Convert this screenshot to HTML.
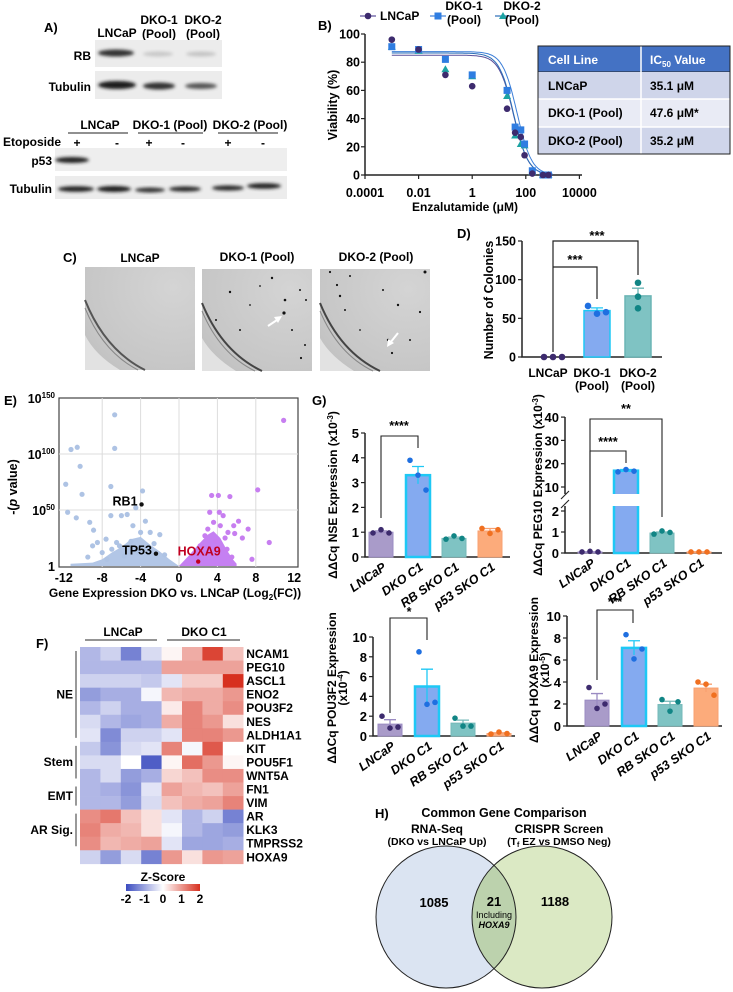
<!DOCTYPE html>
<html><head><meta charset="utf-8">
<style>
html,body{margin:0;padding:0;background:#fff;}
svg{display:block;font-family:"Liberation Sans Narrow","Liberation Sans",sans-serif;font-weight:bold;}
</style></head>
<body>
<svg id="fig" width="733" height="992" viewBox="0 0 733 992" xmlns="http://www.w3.org/2000/svg">
<defs>
<filter id="blur1" x="-20%" y="-50%" width="140%" height="200%"><feGaussianBlur stdDeviation="1.6"/></filter>
<linearGradient id="zgrad" x1="0" x2="1" y1="0" y2="0">
<stop offset="0" stop-color="#3b4cc0"/><stop offset="0.5" stop-color="#ffffff"/><stop offset="1" stop-color="#d7301f"/></linearGradient>
<radialGradient id="dish" cx="0.8" cy="0.2" r="1.1"><stop offset="0" stop-color="#d4d4d4"/><stop offset="0.75" stop-color="#c6c6c6"/><stop offset="1" stop-color="#bdbdbd"/></radialGradient>
<clipPath id="vennL"><ellipse cx="446" cy="917" rx="70" ry="71"/></clipPath>
</defs>

<!-- Panel A -->
<g>
<text x="44" y="32" font-size="13">A)</text>
<text x="117" y="37" font-size="12" text-anchor="middle">LNCaP</text>
<text x="159" y="24" font-size="12" text-anchor="middle">DKO-1</text>
<text x="159" y="38" font-size="12" text-anchor="middle">(Pool)</text>
<text x="203" y="24" font-size="12" text-anchor="middle">DKO-2</text>
<text x="203" y="38" font-size="12" text-anchor="middle">(Pool)</text>
<text x="91" y="60" font-size="12" text-anchor="end">RB</text>
<rect x="95" y="40" width="127" height="27" fill="#ececec"/>
<ellipse cx="116" cy="53" rx="18" ry="3.5" fill="#333" filter="url(#blur1)"/>
<ellipse cx="158" cy="54" rx="15" ry="2.5" fill="#c8c8c8" filter="url(#blur1)"/>
<ellipse cx="201" cy="54" rx="15" ry="2.5" fill="#c4c4c4" filter="url(#blur1)"/>
<text x="91" y="91" font-size="12" text-anchor="end">Tubulin</text>
<rect x="95" y="71" width="127" height="28" fill="#ececec"/>
<ellipse cx="117" cy="85" rx="19" ry="4" fill="#1a1a1a" filter="url(#blur1)"/>
<ellipse cx="159" cy="86" rx="16" ry="3.5" fill="#333" filter="url(#blur1)"/>
<ellipse cx="201" cy="86" rx="16" ry="3" fill="#555" filter="url(#blur1)"/>

<text x="100" y="129" font-size="12" text-anchor="middle">LNCaP</text>
<text x="170" y="129" font-size="12" text-anchor="middle">DKO-1 (Pool)</text>
<text x="250" y="129" font-size="12" text-anchor="middle">DKO-2 (Pool)</text>
<line x1="68" y1="133" x2="128" y2="133" stroke="#222" stroke-width="1"/>
<line x1="138" y1="133" x2="203" y2="133" stroke="#222" stroke-width="1"/>
<line x1="218" y1="133" x2="278" y2="133" stroke="#222" stroke-width="1"/>
<text x="3" y="146" font-size="12">Etoposide</text>
<g font-size="12" text-anchor="middle">
<text x="77" y="147">+</text>
<text x="117" y="147">-</text>
<text x="149" y="147">+</text>
<text x="183" y="147">-</text>
<text x="228" y="147">+</text>
<text x="263" y="147">-</text>
</g>
<text x="52" y="165" font-size="12" text-anchor="end">p53</text>
<rect x="55" y="148" width="232" height="23" fill="#eeeeee"/>
<ellipse cx="72" cy="160" rx="17" ry="3" fill="#222" filter="url(#blur1)"/>
<text x="52" y="193" font-size="12" text-anchor="end">Tubulin</text>
<rect x="55" y="176" width="232" height="23" fill="#ececec"/>
<ellipse cx="76" cy="189" rx="18" ry="2.8" fill="#222" filter="url(#blur1)"/>
<ellipse cx="114" cy="189" rx="17" ry="3" fill="#1a1a1a" filter="url(#blur1)"/>
<ellipse cx="150" cy="190" rx="15" ry="2.5" fill="#333" filter="url(#blur1)"/>
<ellipse cx="185" cy="189" rx="16" ry="2.6" fill="#2a2a2a" filter="url(#blur1)"/>
<ellipse cx="228" cy="188" rx="16" ry="2.6" fill="#2a2a2a" filter="url(#blur1)"/>
<ellipse cx="264" cy="186" rx="17" ry="2.8" fill="#222" filter="url(#blur1)"/>
</g>

<!-- Panel B static -->
<text x="318" y="30" font-size="13">B)</text>
<g font-size="12">
<rect x="538" y="46" width="192" height="26" fill="#4472c4" stroke="#222" stroke-width="1"/>
<rect x="538" y="72" width="192" height="27" fill="#cfd5ea"/>
<rect x="538" y="99" width="192" height="28" fill="#e9ebf5"/>
<rect x="538" y="127" width="192" height="27" fill="#cfd5ea"/>
<line x1="641" y1="46" x2="641" y2="154" stroke="#fff" stroke-width="1.5"/>
<line x1="538" y1="99" x2="730" y2="99" stroke="#fff" stroke-width="1.5"/>
<line x1="538" y1="127" x2="730" y2="127" stroke="#fff" stroke-width="1.5"/>
<rect x="538" y="46" width="192" height="108" fill="none" stroke="#222" stroke-width="1"/>
<text x="548" y="64" fill="#fff">Cell Line</text>
<text x="650" y="64" fill="#fff">IC<tspan font-size="8" dy="3">50</tspan><tspan dy="-3"> Value</tspan></text>
<text x="548" y="90">LNCaP</text>
<text x="650" y="90">35.1 μM</text>
<text x="548" y="117">DKO-1 (Pool)</text>
<text x="650" y="117">47.6 μM*</text>
<text x="548" y="145">DKO-2 (Pool)</text>
<text x="650" y="145">35.2 μM</text>
</g>

<!-- Panel C -->
<g>
<text x="63" y="262" font-size="13">C)</text>
<text x="140" y="262" font-size="12" text-anchor="middle">LNCaP</text>
<text x="257" y="261" font-size="12" text-anchor="middle">DKO-1 (Pool)</text>
<text x="376" y="261" font-size="12" text-anchor="middle">DKO-2 (Pool)</text>
<g>
<rect x="85" y="267" width="110" height="103" fill="url(#dish)"/>
<path d="M85 300 Q105 350 145 370" stroke="#555" stroke-width="2" fill="none"/>
<path d="M85 308 Q103 352 138 370" stroke="#888" stroke-width="1" fill="none"/>
<path d="M85 335 L85 370 L120 370 Q95 355 85 335Z" fill="#e2e2e2"/>
</g>
<g>
<rect x="202" y="269" width="110" height="102" fill="url(#dish)"/>
<path d="M202 303 Q222 352 262 371" stroke="#444" stroke-width="2" fill="none"/>
<path d="M202 311 Q220 354 255 371" stroke="#888" stroke-width="1" fill="none"/>
<path d="M202 338 L202 371 L236 371 Q212 356 202 338Z" fill="#e2e2e2"/>
<g fill="#111"><circle cx="230" cy="292" r="1.2"/><circle cx="272" cy="278" r="1.2"/><circle cx="285" cy="300" r="1.3"/><circle cx="284" cy="313" r="1.6"/><circle cx="300" cy="290" r="1"/><circle cx="216" cy="320" r="1"/><circle cx="292" cy="330" r="1"/><circle cx="305" cy="345" r="1"/><circle cx="240" cy="330" r="1"/><circle cx="301" cy="358" r="1.1"/><circle cx="260" cy="286" r="0.9"/><circle cx="250" cy="305" r="0.9"/><circle cx="306" cy="300" r="1"/></g>
<path d="M268 326 L280 318" stroke="#fff" stroke-width="2"/><path d="M282 316 L274 317 L278 323Z" fill="#fff"/>
</g>
<g>
<rect x="320" y="269" width="110" height="102" fill="url(#dish)"/>
<path d="M320 303 Q340 352 380 371" stroke="#444" stroke-width="2" fill="none"/>
<path d="M320 311 Q338 354 373 371" stroke="#888" stroke-width="1" fill="none"/>
<path d="M320 338 L320 371 L354 371 Q330 356 320 338Z" fill="#e2e2e2"/>
<g fill="#111"><circle cx="330" cy="272" r="1.1"/><circle cx="337" cy="285" r="1.1"/><circle cx="350" cy="276" r="1"/><circle cx="383" cy="290" r="1"/><circle cx="398" cy="305" r="1.2"/><circle cx="420" cy="312" r="1.1"/><circle cx="425" cy="272" r="1.5"/><circle cx="388" cy="340" r="1.2"/><circle cx="392" cy="353" r="1.1"/><circle cx="345" cy="310" r="1"/><circle cx="360" cy="330" r="0.9"/><circle cx="410" cy="340" r="1"/><circle cx="340" cy="296" r="1.2"/></g>
<path d="M398 333 L390 343" stroke="#fff" stroke-width="2"/><path d="M387 347 L388 339 L394 343Z" fill="#fff"/>
</g>
</g>

<!-- panel letters -->
<text x="457" y="238" font-size="13">D)</text>
<text x="4" y="405" font-size="13">E)</text>
<text x="36" y="648" font-size="13">F)</text>
<text x="312" y="405" font-size="13">G)</text>

<!-- Panel H Venn -->
<g>
<text x="375" y="818" font-size="13">H)</text>
<text x="504" y="817" font-size="12.5" text-anchor="middle">Common Gene Comparison</text>
<text x="437" y="833" font-size="12" text-anchor="middle">RNA-Seq</text>
<text x="437" y="845" font-size="10.5" text-anchor="middle">(DKO vs LNCaP Up)</text>
<text x="559" y="833" font-size="12" text-anchor="middle">CRISPR Screen</text>
<text x="559" y="845" font-size="10.5" text-anchor="middle">(T<tspan font-size="7" dy="2">f</tspan><tspan dy="-2"> EZ vs DMSO Neg)</tspan></text>
<ellipse cx="446" cy="917" rx="70" ry="71" fill="#dbe4f2"/>
<ellipse cx="542" cy="917" rx="70" ry="71" fill="#dbe9c4"/>
<ellipse cx="542" cy="917" rx="70" ry="71" fill="#bcd2ad" clip-path="url(#vennL)"/>
<ellipse cx="446" cy="917" rx="70" ry="71" fill="none" stroke="#222" stroke-width="1"/>
<ellipse cx="542" cy="917" rx="70" ry="71" fill="none" stroke="#222" stroke-width="1"/>
<text x="434" y="907" font-size="13" text-anchor="middle">1085</text>
<text x="494" y="906" font-size="13" text-anchor="middle">21</text>
<text x="494" y="918" font-size="9" font-weight="normal" text-anchor="middle">Including</text>
<text x="494" y="928" font-size="9" font-style="italic" text-anchor="middle">HOXA9</text>
<text x="555" y="906" font-size="13" text-anchor="middle">1188</text>
</g>
</svg>

<script>
// ---------- data ----------
const bConc = [0.001, 0.01, 0.1, 1, 20, 40, 65, 90, 175, 440, 700];
const bLNCaP = [96, 89, 71, 63, 47, 30, 27, 14, 1, 0, 0];
const bDKO1 = [91, 89, 82, 71, 60, 34, 32, 22, 3, 0, 0];
const bDKO2 = [91, 88, 75, 70, 56, 28, 22, 21, 2, 0, 0];
const bTop = [85, 87.5, 86.5];
const bIC50 = [35.1, 47.6, 35.2];
const bHill = [1.6, 1.6, 1.6];
const bXTicks = ["0.0001", "0.01", "1", "100", "10000"];
const bYTicks = [0, 20, 40, 60, 80, 100];

const dCats = ["LNCaP", "DKO-1", "DKO-2"];
const dMeans = [0, 60, 79];
const dSem = [0, 3.5, 10];
const dPts = [[0, 0, 0], [66, 56, 58], [96, 78, 63]];
const dYTicks = [0, 50, 100, 150];

const eBlueX = [-6.7,-6.7,-11.25,-10.6,-10.3,-11.8,-10.1,-11.6,-10.7,-7.1,-3.8,-4.5,-7.1,-9.3,-8.9,-6,-5.4,-8.5,-7.6,-7.5,-6.5,-4.8,-4,-2,-5,-3,-6.2,-8,-9.5,-3.5,-2.6,-4.3,-5.7,-7,-9,-1.5];
const eBlueY = [135,105,104,106,89,73,64,48,43,71,67,52,45,39,32,45,46,21,24,6,21,36,30,28,22,30,18,12,8,40,20,12,9,15,18,10];
const ePurpX = [10.9,8.2,9.4,7.6,7.2,3.4,4.1,5.3,3.2,4.2,4.6,6.2,5.7,5.1,5.8,3.6,4.3,5,2.7,3,4.8,6.6,3.8,2.2,5.5];
const ePurpY = [130,68,21,6,33,63,63,62,48,48,45,40,36,30,29,39,36,15,27,33,25,25,22,18,8];
const eBlueCloud = [[0,0],[-1,6],[-2,13],[-3,19],[-4,26],[-5,24],[-6,17],[-7,12],[-8,6],[-9,3],[-11.3,2],[-11.3,0]];
const ePurpCloud = [[0,0],[1,9],[2,19],[3,28],[3.6,31],[4.3,25],[5,14],[5.6,6],[6,2],[6,0]];
const eLabeled = [{name:"RB1", x:-3.9, y:55}, {name:"TP53", x:-2.4, y:11}, {name:"HOXA9", x:2.0, y:4}];
const eXTicks = [-12, -8, -4, 0, 4, 8, 12];
const eYTicks = [0, 50, 100, 150];

const fGenes = ["NCAM1","PEG10","ASCL1","ENO2","POU3F2","NES","ALDH1A1","KIT","POU5F1","WNT5A","FN1","VIM","AR","KLK3","TMPRSS2","HOXA9"];
const fZ = [
 [-0.8,-0.5,-1.4,-0.4, 0.1,0.8,1.8,0.6],
 [-0.8,-0.8,-0.8,-0.8, 0.9,0.9,0.9,0.9],
 [-0.5,-0.5,-0.5,-0.6,-0.3,0.5,0.5,2.0],
 [-1.1,-0.9,-0.9,-0.1, 0.7,0.8,0.8,1.0],
 [-0.8,-0.5,-0.9,-0.9, 0.2,1.2,0.8,1.1],
 [-0.4,-0.8,-1.0,-0.9, 0.8,1.2,1.0,0.3],
 [-0.3,-1.3,-0.5,-0.5,-0.3,1.2,1.2,1.0],
 [-0.6,-1.2,-0.4,-0.3, 1.2,-0.1,1.6,0.0],
 [-0.4,-0.4,0.0,-1.8, 0.1,1.4,1.0,0.1],
 [-0.8,-0.4,-1.1,-0.9, 0.4,0.6,1.1,1.1],
 [-0.8,-0.9,-1.2,-0.3, 0.9,0.7,0.6,0.9],
 [-0.8,-0.8,-1.1,-0.4, 0.6,0.8,0.9,1.2],
 [1.1,1.3,0.6,0.3,-0.3,-0.8,-0.5,-1.4],
 [1.2,0.8,0.7,0.3,-0.1,-0.8,-1.0,-1.1],
 [1.1,0.7,0.8,0.9,-0.3,-1.0,-1.0,-0.9],
 [-0.5,-1.1,-0.4,-1.4, 1.0,0.3,1.0,0.9]
];
const fZTicks = [-2, -1, 0, 1, 2];

const gCats = ["LNCaP", "DKO C1", "RB SKO C1", "p53 SKO C1"];
const nseMeans = [1.0, 3.3, 0.75, 1.05];
const nseSem = [0.05, 0.35, 0.05, 0.1];
const nsePts = [[0.97,1.1,0.97],[3.9,3.3,2.7],[0.72,0.85,0.75],[1.15,0.95,1.1]];
const nseTicks = [0,1,2,3,4,5];
const pegMeans = [0.05, 17, 0.95, 0.05];
const pegSem = [0.01, 0.5, 0.05, 0.01];
const pegPts = [[0.05,0.08,0.05],[16.5,17.5,16.8],[0.9,1.05,0.98],[0.05,0.05,0.05]];
const pegTicks = [0,1,2,10,20,30,40];
const pouMeans = [1.2, 5.0, 1.3, 0.25];
const pouSem = [0.45, 1.75, 0.3, 0.08];
const pouPts = [[2.0,0.8,0.9],[8.5,3.2,3.4],[1.8,1.0,1.0],[0.2,0.4,0.25]];
const pouTicks = [0,2,4,6,8,10];
const hoxMeans = [2.35, 7.1, 1.95, 3.45];
const hoxSem = [0.6, 0.65, 0.3, 0.35];
const hoxPts = [[3.5,1.6,2.0],[8.3,6.1,7.0],[2.4,1.35,2.2],[4.0,3.8,2.8]];
const hoxTicks = [0,2,4,6,8,10];

// ---------- helpers ----------
const NS = "http://www.w3.org/2000/svg";
const svg = document.getElementById('fig');
function mk(tag, attrs, parent) {
  const e = document.createElementNS(NS, tag);
  for (const k in attrs) e.setAttribute(k, attrs[k]);
  (parent || svg).appendChild(e);
  return e;
}
function tx(x, y, s, size, anchor, parent) {
  const e = mk('text', {x: x, y: y, 'font-size': size, 'text-anchor': anchor || 'start'}, parent);
  e.textContent = s;
  return e;
}
function grp(name) {
  const g = mk('g', {});
  
  
  return g;
}

// ---------- Panel B ----------
(function(){
  const g = grp('viability-chart');
  const xB = c => 365 + (Math.log10(c) + 4) * 26.8;
  const yB = v => 175 - v * 1.41;
  const ax = mk('path', {d: 'M365 34 V175 H582', stroke: '#222', 'stroke-width': 1.5, fill: 'none'}, g);
  
  
  bYTicks.forEach(v => {
    const t = tx(360, yB(v) + 4.5, String(v), 12.5, 'end', g);
    
    
    const l = mk('line', {x1: 361, x2: 365, y1: yB(v), y2: yB(v), stroke: '#222', 'stroke-width': 1.2}, g);
    
    
  });
  bXTicks.forEach(s => {
    const x = xB(parseFloat(s));
    const t = tx(x, 197, s, 12.5, 'middle', g);
    
    
    const l = mk('line', {x1: x, x2: x, y1: 175, y2: 179, stroke: '#222', 'stroke-width': 1.2}, g);
    
    
  });
  const xt = tx(465, 211, 'Enzalutamide (μM)', 12, 'middle', g);
  
  
  const yt = tx(0, 0, 'Viability (%)', 12.5, 'middle', g);
  yt.setAttribute('transform', 'translate(337,105) rotate(-90)');
  
  
  const cols = ['#3d2b6e', '#2f7de1', '#1ba3a3'];
  const lineCols = ['#5a4e9a', '#3d7fd8', '#2b6fb8'];
  const series = [bLNCaP, bDKO1, bDKO2];
  for (let s = 0; s < 3; s++) {
    let d = '';
    for (let lg = -3; lg <= 3.0001; lg += 0.05) {
      const c = Math.pow(10, lg);
      const v = bTop[s] / (1 + Math.pow(c / bIC50[s], bHill[s]));
      d += (d ? 'L' : 'M') + xB(c).toFixed(1) + ' ' + yB(v).toFixed(1);
    }
    const p = mk('path', {d: d, stroke: lineCols[s], 'stroke-width': 1, fill: 'none'}, g);
    
    
  }
  for (let s = 2; s >= 0; s--) {
    series[s].forEach((v, i) => {
      const x = xB(bConc[i]), y = yB(v);
      let m;
      if (s === 0) m = mk('circle', {cx: x, cy: y, r: 3.3, fill: cols[0]}, g);
      else if (s === 1) m = mk('rect', {x: x - 3.5, y: y - 3.5, width: 7, height: 7, fill: cols[1]}, g);
      else m = mk('path', {d: `M${x} ${y-4} L${x+4} ${y+3} L${x-4} ${y+3}Z`, fill: cols[2]}, g);
      
      
    });
  }
  // legend
  const lg = [[368, 380, 'LNCaP', null], [438, 450, 'DKO-1', '(Pool)'], [503, 508, 'DKO-2', '(Pool)']];
  lg.forEach((L, s) => {
    const ln = mk('line', {x1: L[0] - 8, x2: L[0] + 8, y1: 16, y2: 16, stroke: lineCols[s], 'stroke-width': 1.2}, g);
    
    
    let m;
    if (s === 0) m = mk('circle', {cx: L[0], cy: 16, r: 3.3, fill: cols[0]}, g);
    else if (s === 1) m = mk('rect', {x: L[0] - 3.5, y: 12.5, width: 7, height: 7, fill: cols[1]}, g);
    else m = mk('path', {d: `M${L[0]} 12 L${L[0]+4} 19 L${L[0]-4} 19Z`, fill: cols[2]}, g);
    
    
    if (L[3]) {
      const t1 = tx(L[1] + 14, 10, L[2], 12, 'middle', g);
      
      
      const t2 = tx(L[1] + 14, 24, L[3], 12, 'middle', g);
      
      
    } else {
      const t = tx(L[1], 20, L[2], 12, 'start', g);
      
      
    }
  });
})();

// ---------- Panel D ----------
(function(){
  const g = grp('colonies-chart');
  const xs = [553, 597, 638];
  const yD = v => 357 - v * (116 / 150);
  const fills = ['#a99bc9', '#84aaf0', '#7fc3c3'];
  const strokes = ['#8c7bb8', '#1ec8f5', '#6bb5b5'];
  const dots = ['#3d2b6e', '#1f6fe0', '#118585'];
  const ax = mk('path', {d: 'M522 241 V357 H662', stroke: '#222', 'stroke-width': 1.5, fill: 'none'}, g);
  
  
  dYTicks.forEach(v => {
    const t = tx(516, yD(v) + 4.5, String(v), 12.5, 'end', g);
    
    
    const l = mk('line', {x1: 518, x2: 522, y1: yD(v), y2: yD(v), stroke: '#222', 'stroke-width': 1.2}, g);
    
    
  });
  const yt = tx(0, 0, 'Number of Colonies', 12.5, 'middle', g);
  yt.setAttribute('transform', 'translate(493,300) rotate(-90)');
  
  
  dMeans.forEach((v, i) => {
    if (v > 0) {
      const b = mk('rect', {x: xs[i] - 13, y: yD(v), width: 26, height: 357 - yD(v), fill: fills[i], stroke: strokes[i], 'stroke-width': 1.5}, g);
      
      
      const e = mk('path', {d: `M${xs[i]} ${yD(v)} V${yD(v + dSem[i])} M${xs[i]-6} ${yD(v + dSem[i])} H${xs[i]+6}`, stroke: strokes[i], 'stroke-width': 1.3, fill: 'none'}, g);
      
      
    }
    dPts[i].forEach((p, j) => {
      const c = mk('circle', {cx: xs[i] + (j - 1) * 9 * (i === 2 ? 0 : 1) + (i === 2 ? 0 : 0), cy: yD(p), r: 3.3, fill: dots[i]}, g);
      
      
    });
  });
  const br = mk('path', {d: `M${xs[0]} 352 V241 H${xs[2]} V275 M${xs[0]} 267 H${xs[1]} V299`, stroke: '#222', 'stroke-width': 1.2, fill: 'none'}, g);
  
  
  const s1 = tx(597, 240, '***', 13, 'middle', g);
  
  
  const s2 = tx(575, 264, '***', 13, 'middle', g);
  
  
  const l1 = tx(548, 377, 'LNCaP', 12, 'middle', g);
  
  
  const l2 = tx(592, 377, 'DKO-1', 12, 'middle', g);
  
  
  const l3 = tx(638, 377, 'DKO-2', 12, 'middle', g);
  
  
  const l4 = tx(592, 390, '(Pool)', 12, 'middle', g);
  
  
  const l5 = tx(638, 390, '(Pool)', 12, 'middle', g);
  
  
})();

// ---------- Panel E ----------
(function(){
  const g = grp('volcano-plot');
  const xE = v => 179 + v * 9.6;
  const yE = v => 566 - v * 1.12;
  const box = mk('rect', {x: 59, y: 398, width: 239, height: 169, fill: '#fff', stroke: '#444', 'stroke-width': 1.2}, g);
  
  
  eXTicks.slice(1, -1).forEach(v => {
    const l = mk('line', {x1: xE(v), x2: xE(v), y1: 398, y2: 567, stroke: '#dcdcdc', 'stroke-width': 1}, g);
    
    
  });
  eYTicks.slice(1, -1).forEach(v => {
    const l = mk('line', {x1: 59, x2: 298, y1: yE(v), y2: yE(v), stroke: '#dcdcdc', 'stroke-width': 1}, g);
    
    
  });
  const bc = mk('path', {d: 'M' + eBlueCloud.map(p => xE(p[0]) + ' ' + yE(p[1])).join('L') + 'Z', fill: '#b2c6e6'}, g);
  
  
  const pc = mk('path', {d: 'M' + ePurpCloud.map(p => xE(p[0]) + ' ' + yE(p[1])).join('L') + 'Z', fill: '#c580f2'}, g);
  
  
  eBlueX.forEach((x, i) => {
    const c = mk('circle', {cx: xE(x), cy: yE(eBlueY[i]), r: 2.6, fill: '#aec3e4'}, g);
    
    
  });
  ePurpX.forEach((x, i) => {
    const c = mk('circle', {cx: xE(x), cy: yE(ePurpY[i]), r: 2.6, fill: '#c77ef0'}, g);
    
    
  });
  eLabeled.forEach(p => {
    const c = mk('circle', {cx: xE(p.x), cy: yE(p.y), r: 2.2, fill: p.name === 'HOXA9' ? '#c00020' : '#111'}, g);
    
    
    let t;
    if (p.name === 'HOXA9') { t = tx(xE(p.x) + 1, yE(p.y) - 6, p.name, 12.5, 'middle', g); t.setAttribute('fill', '#c00020'); }
    else t = tx(xE(p.x) - 4, yE(p.y) + 1, p.name, 12.5, 'end', g);
    
    
  });
  eXTicks.forEach(v => {
    const t = tx(xE(v), 582, String(v), 12.5, 'middle', g);
    
    
  });
  eYTicks.forEach(v => {
    const t = mk('text', {x: 55, y: yE(v) + 5, 'font-size': 12.5, 'text-anchor': 'end'}, g);
    if (v === 0) t.textContent = '1';
    else { t.textContent = '10'; const sp = mk('tspan', {dy: -5, 'font-size': 8}, t); sp.textContent = String(v); }
    
    
  });
  const xt = mk('text', {x: 175, y: 597, 'font-size': 12, 'text-anchor': 'middle'}, g);
  xt.textContent = 'Gene Expression DKO vs. LNCaP (Log';
  const sub = mk('tspan', {dy: 3, 'font-size': 8}, xt); sub.textContent = '2';
  const rest = mk('tspan', {dy: -3}, xt); rest.textContent = '(FC))';
  
  
  const yt = mk('text', {'font-size': 12.5, 'text-anchor': 'middle', transform: 'translate(17,487) rotate(-90)'}, g);
  yt.textContent = '-(';
  const it = mk('tspan', {'font-style': 'italic'}, yt); it.textContent = 'p';
  const r2 = mk('tspan', {}, yt); r2.textContent = ' value)';
  
  
})();

// ---------- Panel F ----------
(function(){
  const g = grp('heatmap');
  const x0 = 80, y0 = 647, cw = 20.4, rh = 13.55;
  function col(z) {
    const t = Math.max(-2, Math.min(2, z)) / 2;
    const lo = [59, 76, 192], hi = [215, 48, 31];
    const c = t < 0 ? lo : hi, a = Math.abs(t);
    return 'rgb(' + [0, 1, 2].map(k => Math.round(255 + (c[k] - 255) * a)).join(',') + ')';
  }
  fZ.forEach((row, r) => {
    row.forEach((z, c) => {
      const cell = mk('rect', {x: x0 + c * cw, y: y0 + r * rh, width: cw + 0.3, height: rh + 0.3, fill: col(z)}, g);
      
      
    });
    const t = tx(x0 + 8 * cw + 3, y0 + r * rh + 11, fGenes[r], 12, 'start', g);
    
    
  });
  const h1 = tx(123, 636, 'LNCaP', 12, 'middle', g);
  
  
  const h2 = tx(204, 636, 'DKO C1', 12, 'middle', g);
  
  
  const u = mk('path', {d: 'M85 640 H157 M167 640 H240', stroke: '#555', 'stroke-width': 1.2}, g);
  
  
  const grpRows = [['NE', 0, 7], ['Stem', 7, 10], ['EMT', 10, 12], ['AR Sig.', 12, 15]];
  grpRows.forEach(gr => {
    const ya = y0 + gr[1] * rh + 4, yb = y0 + gr[2] * rh - 4;
    const l = mk('line', {x1: 76, x2: 76, y1: ya, y2: yb, stroke: '#333', 'stroke-width': 1}, g);
    
    
    const t = tx(73, (ya + yb) / 2 + 4, gr[0], 12, 'end', g);
    
    
  });
  const zl = tx(163, 881, 'Z-Score', 12, 'middle', g);
  
  
  const zb = mk('rect', {x: 126, y: 884, width: 74, height: 7, fill: 'url(#zgrad)'}, g);
  
  
  fZTicks.forEach(v => {
    const t = tx(163 + v * 18.5, 903, String(v), 12, 'middle', g);
    
    
  });
})();

// ---------- Panel G ----------
const gFills = ['#a99bc9', '#84aaf0', '#7fc3c3', '#fcab7b'];
const gStrokes = ['#9a8bc2', '#1ec8f5', '#74b8b8', '#f8a070'];
const gDots = ['#3d2b6e', '#1f6fe0', '#118585', '#f07020'];
function barChart(name, axisX, xEnd, centers, yFn, yTopPix, yBot, means, sem, pts, ticks, titleLines, titleX, titleY) {
  const g = grp(name);
  const ax = mk('path', {d: `M${axisX} ${yTopPix} V${yBot} H${xEnd}`, stroke: '#222', 'stroke-width': 1.5, fill: 'none'}, g);
  
  
  ticks.forEach(v => {
    const t = tx(axisX - 6, yFn(v) + 5, String(v), 13, 'end', g);
    
    
    const l = mk('line', {x1: axisX - 4, x2: axisX, y1: yFn(v), y2: yFn(v), stroke: '#222', 'stroke-width': 1.2}, g);
    
    
  });
  means.forEach((m, i) => {
    const b = mk('rect', {x: centers[i] - 12, y: yFn(m), width: 24, height: Math.max(0, yBot - yFn(m)), fill: gFills[i], stroke: gStrokes[i], 'stroke-width': i === 1 ? 2.5 : 1}, g);
    
    
    const e = mk('path', {d: `M${centers[i]} ${yFn(m - sem[i])} V${yFn(m + sem[i])} M${centers[i]-6} ${yFn(m + sem[i])} H${centers[i]+6}`, stroke: gStrokes[i], 'stroke-width': 1.3, fill: 'none'}, g);
    
    
    pts[i].forEach((p, j) => {
      const c = mk('circle', {cx: centers[i] + (j - 1) * 8, cy: yFn(p), r: 2.8, fill: gDots[i]}, g);
      
      
    });
    const t = tx(0, 0, gCats[i], 12.5, 'end', g);
    t.setAttribute('font-style', 'italic');
    t.setAttribute('transform', `translate(${centers[i] + 6},${yBot + 12}) rotate(-35)`);
    
    
  });
  titleLines.forEach((s, k) => {
    const t = mk('text', {'font-size': 12, 'text-anchor': 'middle', transform: `translate(${titleX + k * 11},${titleY}) rotate(-90)`}, g);
    t.innerHTML = s;
    
    
  });
  return g;
}
function bracket(g, x1, x2, yb, yl, yr, star, sx, sy) {
  const p = mk('path', {d: `M${x1} ${yl} V${yb} H${x2} V${yr}`, stroke: '#222', 'stroke-width': 1.1, fill: 'none'}, g);
  
  
  const t = tx(sx, sy, star, 12.5, 'middle', g);
  
  
}
// NSE
(function(){
  const yN = v => 557 - v * 24.8;
  const g = barChart('nse-chart', 365, 510, [381, 418, 454, 490], yN, 433, 557, nseMeans, nseSem, nsePts, nseTicks,
    ['ΔΔCq NSE Expression (x10<tspan font-size="8" dy="-4">-3</tspan><tspan dy="4">)</tspan>'], 337, 495);
  bracket(g, 381, 418, 436, 518, 448, '****', 399, 430);
})();
// PEG10 (broken axis)
(function(){
  const yP = v => v <= 2 ? 553 - v * 21 : 487 - (v - 10) * 2.33;
  const g = barChart('peg10-chart', 565, 722, [590, 626, 662, 699], yP, 417, 553, pegMeans, pegSem, pegPts, pegTicks,
    ['ΔΔCq PEG10 Expression (x10<tspan font-size="8" dy="-4">-3</tspan><tspan dy="4">)</tspan>'], 542, 485);
  const gap = mk('rect', {x: 558, y: 494, width: 90, height: 12, fill: '#fff'}, g);
  
  
  const sl = mk('path', {d: 'M561 499 L569 491 M561 508 L569 500', stroke: '#222', 'stroke-width': 1.1}, g);
  
  
  bracket(g, 590, 662, 419, 553 - 10, 517, '**', 626, 413);
  bracket(g, 590, 626, 451, 553 - 10, 463, '****', 608, 446);
})();
// POU3F2
(function(){
  const yQ = v => 736 - v * 9.9;
  const g = barChart('pou3f2-chart', 373, 515, [390, 427, 463, 499], yQ, 637, 736, pouMeans, pouSem, pouPts, pouTicks,
    ['ΔΔCq POU3F2 Expression', '(x10<tspan font-size="8" dy="-4">-4</tspan><tspan dy="4">)</tspan>'], 336, 688);
  bracket(g, 390, 427, 618, 713, 640, '*', 409, 616);
})();
// HOXA9
(function(){
  const yH = v => 726 - v * 11;
  const g = barChart('hoxa9-chart', 567, 722, [597, 634, 670, 706], yH, 616, 726, hoxMeans, hoxSem, hoxPts, hoxTicks,
    ['ΔΔCq HOXA9 Expression', '(x10<tspan font-size="8" dy="-4">-5</tspan><tspan dy="4">)</tspan>'], 538, 670);
  bracket(g, 597, 633, 610, 680, 623, '***', 615, 606);
})();
</script>
</body></html>
